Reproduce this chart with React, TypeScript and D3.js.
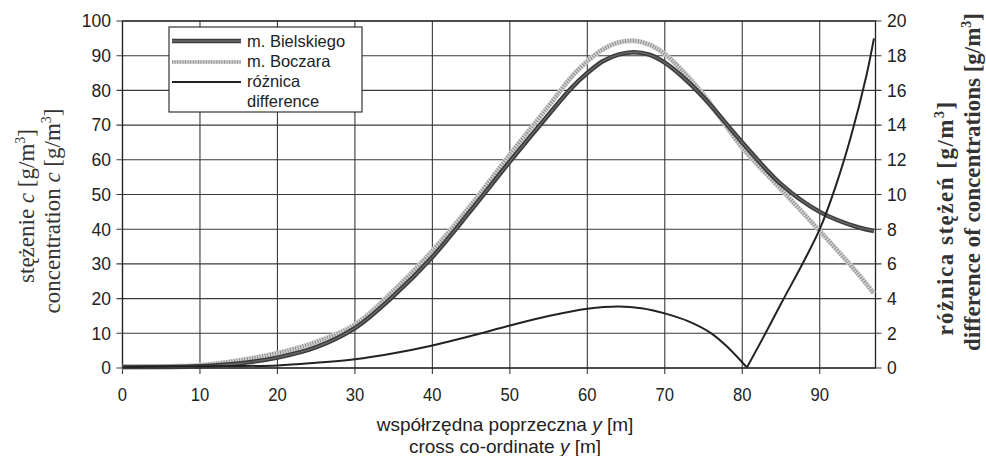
import React from "react";
import * as d3 from "d3";

// x positions (cross co-ordinate y [m])
const xBielski = [0, 5, 10, 15, 20, 25, 30, 35, 40, 45, 50, 55, 58, 60, 62, 64, 66, 68, 70, 72, 75, 80, 85, 90, 95, 97];
const cBielski = [0.3, 0.3, 0.5, 1.3, 3.0, 6.0, 11.5, 20.8, 32, 45.5, 59.5, 73, 80.8, 85, 88.4, 90.3, 91, 90.3, 88, 84.5, 78, 65, 53, 45, 40.5, 39.5];

const xBoczara = [0, 5, 10, 15, 20, 25, 30, 35, 40, 45, 50, 55, 58, 60, 62, 64, 66, 68, 70, 72, 75, 80, 85, 90, 95, 97];
const cBoczara = [0.3, 0.4, 0.8, 2.2, 4.3, 7.5, 12.5, 22.3, 33.8, 47, 61.5, 75.5, 84, 88.4, 91.8, 93.8, 94.3, 93.2, 90.5, 86.3, 78.8, 63.5, 51.5, 39.5, 27, 21.5];

const xDiff = [0, 10, 20, 25, 30, 35, 40, 45, 50, 55, 60, 64, 67, 70, 73, 76, 78, 80.6, 83, 85, 88, 90, 92, 94, 96, 97];
const dDiff = [0.05, 0.1, 0.15, 0.3, 0.5, 0.85, 1.3, 1.85, 2.45, 3.0, 3.42, 3.55, 3.45, 3.15, 2.7, 2.0, 1.25, 0.03, 2.0, 3.7, 6.2, 8.0, 10.4, 13.3, 16.8, 19];

const xTicks = [0, 10, 20, 30, 40, 50, 60, 70, 80, 90];
const yLeftTicks = [0, 10, 20, 30, 40, 50, 60, 70, 80, 90, 100];
const yRightTicks = [0, 2, 4, 6, 8, 10, 12, 14, 16, 18, 20];

const legendLabels = ["m. Bielskiego", "m. Boczara", "różnica", "difference"];

const W = 986;
const H = 456;
const L = 122.5, R = 875.5, T = 21, B = 368;

export default function App() {
  const x = d3.scaleLinear().domain([0, 97.2]).range([L, R]);
  const yL = d3.scaleLinear().domain([0, 100]).range([B, T]);
  const yR = d3.scaleLinear().domain([0, 20]).range([B, T]);

  const bielski = xBielski.map((v, i) => [v, cBielski[i]] as [number, number]);
  const boczara = xBoczara.map((v, i) => [v, cBoczara[i]] as [number, number]);
  const diff = xDiff.map((v, i) => [v, dDiff[i]] as [number, number]);
  const minIdx = dDiff.indexOf(d3.min(dDiff.slice(5)) as number);
  const diffA = diff.slice(0, minIdx + 1);
  const diffB = diff.slice(minIdx);

  const curve = d3.curveCatmullRom.alpha(0.5);
  const lineL = d3.line<[number, number]>().x(d => x(d[0])).y(d => yL(d[1])).curve(curve);
  const lineR = d3.line<[number, number]>().x(d => x(d[0])).y(d => yR(d[1])).curve(curve);

  const sans = "'Liberation Sans', Arial, sans-serif";
  const serif = "'Liberation Serif', 'Times New Roman', serif";
  const gridColor = "#3a3a3a";

  const lgX = 169, lgY = 27, lgW = 193, lgH = 85;

  return (
    <svg width={W} height={H} style={{ position: "absolute", left: 0, top: 0, background: "#fff" }}>
      <rect x={0} y={0} width={W} height={H} fill="#fff" />
      {/* grid */}
      {yLeftTicks.map(t => (
        <line key={"h" + t} x1={L - 6} x2={R + 6} y1={yL(t)} y2={yL(t)} stroke={gridColor} strokeWidth={1.1} />
      ))}
      {xTicks.map(t => (
        <line key={"v" + t} x1={x(t)} x2={x(t)} y1={T} y2={B + 6} stroke={gridColor} strokeWidth={1.1} />
      ))}
      <rect x={L} y={T} width={R - L} height={B - T} fill="none" stroke="#222" strokeWidth={1.3} />

      {/* tick labels */}
      {yLeftTicks.map(t => (
        <text key={"lt" + t} x={111} y={yL(t)} dy="0.36em" textAnchor="end" fontFamily={sans} fontSize={17.5} fill="#222">{t}</text>
      ))}
      {yRightTicks.map(t => (
        <text key={"rt" + t} x={887} y={yR(t)} dy="0.36em" textAnchor="start" fontFamily={sans} fontSize={17.5} fill="#222">{t}</text>
      ))}
      {xTicks.map(t => (
        <g key={"xt" + t} transform={`translate(${x(t)},401) scale(0.9,1)`}>
          <text x={0} y={0} textAnchor="middle" fontFamily={sans} fontSize={18.5} fill="#222">{t}</text>
        </g>
      ))}

      {/* series */}
      <path d={lineL(boczara) || ""} fill="none" stroke="#d4d4d4" strokeWidth={5} />
      <path d={lineL(boczara) || ""} fill="none" stroke="#8a8a8a" strokeWidth={4} strokeDasharray="1 1.6" />
      <path d={lineL(bielski) || ""} fill="none" stroke="#3c3c3c" strokeWidth={4.5} />
      <path d={lineL(bielski) || ""} fill="none" stroke="#6a6a6a" strokeWidth={1.3} />
      <path d={lineR(diffA) || ""} fill="none" stroke="#222" strokeWidth={2} />
      <path d={lineR(diffB) || ""} fill="none" stroke="#222" strokeWidth={2} />

      {/* legend */}
      <rect x={lgX} y={lgY} width={lgW} height={lgH} fill="#fff" stroke="#222" strokeWidth={1.1} />
      <line x1={172} x2={241} y1={41} y2={41} stroke="#3c3c3c" strokeWidth={4.5} />
      <line x1={172} x2={241} y1={41} y2={41} stroke="#6a6a6a" strokeWidth={1.3} />
      <line x1={172} x2={241} y1={62} y2={62} stroke="#d4d4d4" strokeWidth={4} />
      <line x1={172} x2={241} y1={62} y2={62} stroke="#8a8a8a" strokeWidth={3} strokeDasharray="1 1.6" />
      <line x1={172} x2={241} y1={82} y2={82} stroke="#222" strokeWidth={2} />
      {legendLabels.map((s, i) => (
        <text key={s} x={247} y={41 + i * 20} dy="0.36em" fontFamily={sans} fontSize={16.5} fill="#222">{s}</text>
      ))}

      {/* bottom axis title */}
      <text x={505} y={431} textAnchor="middle" fontFamily={sans} fontSize={19} fill="#222">
        współrzędna poprzeczna <tspan fontStyle="italic">y</tspan> [m]
      </text>
      <text x={505} y={453} textAnchor="middle" fontFamily={sans} fontSize={19} fill="#222">
        cross co-ordinate <tspan fontStyle="italic">y</tspan> [m]
      </text>

      {/* left axis title */}
      <text transform="translate(34,206) rotate(-90)" textAnchor="middle" fontFamily={serif} fontSize={23} fill="#333">
        stężenie <tspan fontStyle="italic">c</tspan> [g/m<tspan dy={-9} fontSize={14}>3</tspan><tspan dy={9}>]</tspan>
      </text>
      <text transform="translate(60,211) rotate(-90)" textAnchor="middle" fontFamily={serif} fontSize={23} fill="#333">
        concentration <tspan fontStyle="italic">c</tspan> [g/m<tspan dy={-9} fontSize={14}>3</tspan><tspan dy={9}>]</tspan>
      </text>

      {/* right axis title */}
      <text transform="translate(953,218) rotate(-90)" textAnchor="middle" fontFamily={serif} fontWeight="bold" fontSize={23} letterSpacing={1.5} fill="#333">
        różnica stężeń [g/m<tspan dy={-9} fontSize={14}>3</tspan><tspan dy={9}>]</tspan>
      </text>
      <text transform="translate(980,182) rotate(-90)" textAnchor="middle" fontFamily={serif} fontWeight="bold" fontSize={23} fill="#333">
        difference of concentrations [g/m<tspan dy={-9} fontSize={14}>3</tspan><tspan dy={9}>]</tspan>
      </text>
    </svg>
  );
}
